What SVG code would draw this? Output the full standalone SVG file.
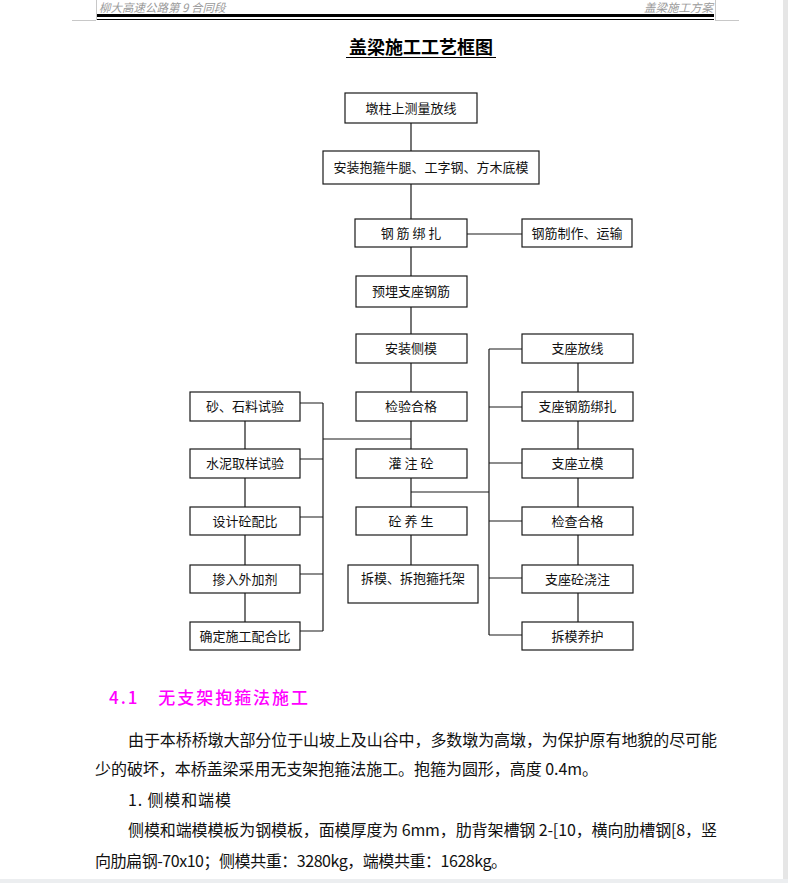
<svg xmlns="http://www.w3.org/2000/svg" width="788" height="883" viewBox="0 0 788 883">
<style>
.bx{fill:#fff;stroke:#1a1a1a;stroke-width:1.2}
.bt{font-family:"Noto Sans CJK SC","Noto Sans",sans-serif;font-size:13px;fill:#111;text-anchor:middle}
.ln{stroke:#1a1a1a;stroke-width:1.2;fill:none}
.pt{font-family:"Noto Sans CJK SC","Noto Sans",sans-serif;font-size:16px;fill:#111}
.hd{font-family:"Noto Sans CJK SC","Noto Sans",sans-serif;font-size:11.5px;fill:#9a9a9a;font-style:italic}
</style>
<rect x="0" y="0" width="788" height="883" fill="#fff"/>
<rect x="783" y="0" width="5" height="883" fill="#e6e6e6"/>
<rect x="0" y="879" width="788" height="4" fill="#eceef0"/>
<g id="header">
<line x1="72" y1="20.5" x2="96" y2="20.5" stroke="#c8c8c8"/>
<line x1="96.5" y1="0" x2="96.5" y2="20" stroke="#c8c8c8"/>
<line x1="715.5" y1="0" x2="715.5" y2="20" stroke="#c8c8c8"/>
<line x1="715" y1="20.5" x2="739" y2="20.5" stroke="#c8c8c8"/>
<rect x="97" y="14" width="617" height="3" fill="#000"/>
<rect x="97" y="19" width="617" height="1" fill="#000"/>
<text class="hd" x="99" y="12">柳大高速公路第 9 合同段</text>
<text class="hd" x="713" y="12" text-anchor="end">盖梁施工方案</text>
</g>
<g id="title">
<text x="421" y="54" font-family="'Noto Sans CJK SC',sans-serif" font-size="18" font-weight="bold" text-anchor="middle" fill="#000">盖梁施工工艺框图</text>
<line x1="346" y1="57.5" x2="496" y2="57.5" stroke="#000" stroke-width="1.2"/>
</g>
<g id="connectors">
<path class="ln" d="M411 123V151M411 184V219M411 247V276M411 307V334M411 363V392M411 421V449M411 478V507M411 535V565"/>
<path class="ln" d="M467 234H522"/>
<path class="ln" d="M245 421V449M245 478V507M245 535V565M245 593V622"/>
<path class="ln" d="M578 363V392M578 421V449M578 478V507M578 535V565M578 593V622"/>
<path class="ln" d="M300 403H323M300 459H323M300 517H323M300 574H323M300 631H323M323 403V631M323 439H411"/>
<path class="ln" d="M411 492H489M489 349V635M489 349H522M489 407H522M489 463H522M489 521H522M489 578H522M489 635H522"/>
</g>
<g id="n1"><rect class="bx" x="345" y="93" width="132" height="30"/><text class="bt" x="411" y="112.5">墩柱上测量放线</text></g>
<g id="n2"><rect class="bx" x="323" y="151" width="216" height="33"/><text class="bt" x="431" y="172">安装抱箍牛腿、工字钢、方木底模</text></g>
<g id="n3"><rect class="bx" x="355" y="219" width="112" height="28"/><text class="bt" x="411" y="237.5">钢 筋 绑 扎</text></g>
<g id="n3b"><rect class="bx" x="522" y="219" width="110" height="28"/><text class="bt" x="577" y="237.5">钢筋制作、运输</text></g>
<g id="n4"><rect class="bx" x="356" y="276" width="111" height="31"/><text class="bt" x="411" y="296">预埋支座钢筋</text></g>
<g id="n5"><rect class="bx" x="356" y="334" width="111" height="29"/><text class="bt" x="411" y="353">安装侧模</text></g>
<g id="n6"><rect class="bx" x="356" y="392" width="111" height="29"/><text class="bt" x="411" y="411">检验合格</text></g>
<g id="n7"><rect class="bx" x="356" y="449" width="111" height="29"/><text class="bt" x="411" y="468">灌 注 砼</text></g>
<g id="n8"><rect class="bx" x="356" y="507" width="111" height="28"/><text class="bt" x="411" y="525.5">砼 养 生</text></g>
<g id="n9"><rect class="bx" x="348" y="565" width="130" height="38"/><text class="bt" x="413" y="583">拆模、拆抱箍托架</text></g>
<g id="l1"><rect class="bx" x="190" y="392" width="110" height="29"/><text class="bt" x="245" y="411">砂、石料试验</text></g>
<g id="l2"><rect class="bx" x="190" y="449" width="110" height="29"/><text class="bt" x="245" y="468">水泥取样试验</text></g>
<g id="l3"><rect class="bx" x="190" y="507" width="110" height="28"/><text class="bt" x="245" y="525.5">设计砼配比</text></g>
<g id="l4"><rect class="bx" x="190" y="565" width="110" height="28"/><text class="bt" x="245" y="583.5">掺入外加剂</text></g>
<g id="l5"><rect class="bx" x="190" y="622" width="110" height="28"/><text class="bt" x="245" y="640.5">确定施工配合比</text></g>
<g id="r1"><rect class="bx" x="522" y="334" width="111" height="29"/><text class="bt" x="577.5" y="353">支座放线</text></g>
<g id="r2"><rect class="bx" x="522" y="392" width="111" height="29"/><text class="bt" x="577.5" y="411">支座钢筋绑扎</text></g>
<g id="r3"><rect class="bx" x="522" y="449" width="111" height="29"/><text class="bt" x="577.5" y="468">支座立模</text></g>
<g id="r4"><rect class="bx" x="522" y="507" width="111" height="28"/><text class="bt" x="577.5" y="525.5">检查合格</text></g>
<g id="r5"><rect class="bx" x="522" y="565" width="111" height="28"/><text class="bt" x="577.5" y="583.5">支座砼浇注</text></g>
<g id="r6"><rect class="bx" x="522" y="622" width="111" height="28"/><text class="bt" x="577.5" y="640.5">拆模养护</text></g>
<g id="body">
<text x="109" y="704" font-family="'Noto Sans CJK SC',sans-serif" font-size="17" font-weight="500" fill="#ff00ff" textLength="199" lengthAdjust="spacing">4.1　无支架抱箍法施工</text>
<text class="pt" x="128" y="746" textLength="589" lengthAdjust="spacing">由于本桥桥墩大部分位于山坡上及山谷中，多数墩为高墩，为保护原有地貌的尽可能</text>
<text class="pt" x="95" y="775" textLength="503" lengthAdjust="spacing">少的破坏，本桥盖梁采用无支架抱箍法施工。抱箍为圆形，高度 0.4m。</text>
<text class="pt" x="128" y="806" textLength="103" lengthAdjust="spacing">1. 侧模和端模</text>
<text class="pt" x="128" y="836" textLength="589" lengthAdjust="spacing">侧模和端模模板为钢模板，面模厚度为 6mm，肋背架槽钢 2-[10，横向肋槽钢[8，竖</text>
<text class="pt" x="95" y="867" textLength="412" lengthAdjust="spacing">向肋扁钢-70x10；侧模共重：3280kg，端模共重：1628kg。</text>
</g>
</svg>
